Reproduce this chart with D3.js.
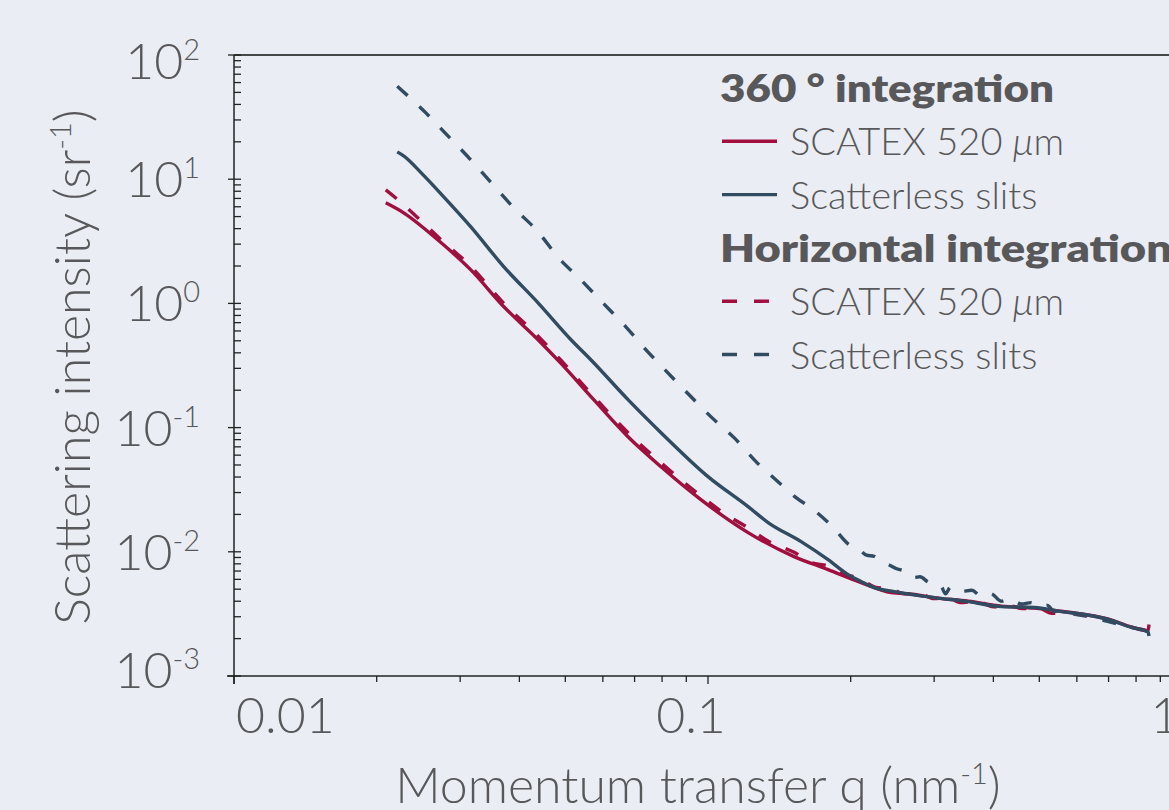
<!DOCTYPE html>
<html>
<head>
<meta charset="utf-8">
<script src="https://cdn.jsdelivr.net/npm/d3@7"></script>
<style>
  html, body { margin: 0; padding: 0; background: #eaedf4; }
  svg { display: block; }
  text { font-family: Lato, "Open Sans", sans-serif; fill: #58585a; }
</style>
</head>
<body>
<div class="chart"></div>
<script>
// data: [q (nm^-1), intensity (sr^-1)]
const scatex360 = [
  [0.0209, 6.45], [0.0228, 5.36], [0.0269, 3.25], [0.0316, 1.86], [0.0371, 0.939],
  [0.0438, 0.51], [0.0489, 0.33], [0.0574, 0.168], [0.0678, 0.0845], [0.0796, 0.0484],
  [0.0966, 0.0263], [0.1215, 0.01428], [0.1519, 0.00915], [0.1792, 0.00719],
  [0.2104, 0.00565], [0.2435, 0.0047], [0.270, 0.00455], [0.300, 0.00428],
  [0.354, 0.0040], [0.416, 0.00365], [0.488, 0.00352], [0.557, 0.00332],
  [0.623, 0.00313], [0.700, 0.00287], [0.782, 0.00248], [0.848, 0.00232], [0.852, 0.0026]
];
const slits360 = [
  [0.0221, 16.6], [0.0228, 15.4], [0.0248, 11.3], [0.0277, 7.21], [0.0316, 4.13],
  [0.0371, 1.97], [0.0438, 1.01], [0.0514, 0.51], [0.0566, 0.352], [0.0678, 0.168],
  [0.0796, 0.091], [0.1000, 0.0403], [0.1215, 0.0231], [0.1339, 0.0172],
  [0.1572, 0.01208], [0.1792, 0.00865], [0.1975, 0.00655], [0.2104, 0.00576],
  [0.2242, 0.00515], [0.2471, 0.00478], [0.300, 0.00428], [0.354, 0.00397],
  [0.416, 0.00362], [0.488, 0.00356], [0.557, 0.0033], [0.623, 0.00313],
  [0.700, 0.00285], [0.782, 0.00246], [0.848, 0.00226], [0.852, 0.0021]
];
const scatexHoriz = [
  [0.0209, 8.2], [0.0220, 7.0], [0.0240, 5.2], [0.0269, 3.45], [0.0316, 1.98],
  [0.0371, 1.0], [0.0438, 0.545], [0.0489, 0.35], [0.0574, 0.178], [0.0678, 0.091],
  [0.0796, 0.052], [0.0966, 0.0282], [0.1080, 0.0205], [0.1215, 0.0156],
  [0.1350, 0.0120], [0.1519, 0.0099], [0.1650, 0.0082], [0.1792, 0.0077],
  [0.1950, 0.0066], [0.2104, 0.0060], [0.2250, 0.0052], [0.2435, 0.0050],
  [0.2600, 0.0046], [0.2800, 0.0046], [0.3000, 0.0042], [0.3200, 0.0043],
  [0.3400, 0.0039], [0.3700, 0.0040], [0.4000, 0.0036], [0.4300, 0.0037],
  [0.4600, 0.0035], [0.5000, 0.0035], [0.5300, 0.0032], [0.5567, 0.0032]
];
const slitsHoriz = [
  [0.0221, 56], [0.0254, 34.2], [0.0284, 21.9], [0.0316, 14.3], [0.0352, 9.0],
  [0.0389, 5.9], [0.0438, 3.77], [0.0482, 2.37], [0.0539, 1.55], [0.0600, 1.01],
  [0.0671, 0.648], [0.0740, 0.423], [0.0823, 0.276], [0.0921, 0.177], [0.1015, 0.122],
  [0.1135, 0.083], [0.1264, 0.053], [0.1405, 0.0367], [0.1534, 0.0273],
  [0.1667, 0.0219], [0.1837, 0.0157], [0.1985, 0.0114], [0.2084, 0.0104],
  [0.2160, 0.0094], [0.2242, 0.0092], [0.2320, 0.0083], [0.2400, 0.0079],
  [0.2500, 0.0073], [0.2594, 0.0070], [0.2660, 0.0064], [0.2724, 0.0062],
  [0.2800, 0.0063], [0.2915, 0.0057], [0.3000, 0.0055], [0.3105, 0.00525],
  [0.3170, 0.0046], [0.3250, 0.0052], [0.3421, 0.0048], [0.3600, 0.0049],
  [0.3773, 0.0044], [0.3950, 0.0046], [0.4158, 0.0040], [0.4350, 0.0042],
  [0.4581, 0.0038], [0.4800, 0.0039], [0.5050, 0.0036], [0.5200, 0.0037],
  [0.5380, 0.0033], [0.5600, 0.0034], [0.5760, 0.00325], [0.6347, 0.00301],
  [0.6996, 0.00274], [0.7709, 0.0025], [0.8200, 0.00238], [0.8499, 0.00228]
];

const xTicks = [0.01, 0.1, 1];
const xTickLabels = ['0.01', '0.1', '1'];
const yTicks = [1e-3, 1e-2, 1e-1, 1e0, 1e1, 1e2];
const yTickExp = ['-3', '-2', '-1', '0', '1', '2'];

const red = '#a10f3f', blue = '#314b60';
const legendGroups = [
  {title: '360 ° integration', titleLen: 334, items: [
    {name: 'SCATEX 520 ', unit: 'μ', color: red, dash: false},
    {name: 'Scatterless slits', unit: '', color: blue, dash: false}
  ]},
  {title: 'Horizontal integration', titleLen: 452, items: [
    {name: 'SCATEX 520 ', unit: 'μ', color: red, dash: true},
    {name: 'Scatterless slits', unit: '', color: blue, dash: true}
  ]}
];

const series = [
  {data: scatexHoriz, color: red, dash: true},
  {data: slitsHoriz, color: blue, dash: true},
  {data: scatex360, color: red, dash: false},
  {data: slits360, color: blue, dash: false}
];

const W = 1169, H = 810;
const margin = {top: 55, left: 234, bottom: 133};
const plotRight = 1182;

const svg = d3.select('.chart').append('svg')
  .attr('width', W)
  .attr('height', H);

const x = d3.scaleLog().domain([0.01, 1]).range([margin.left, plotRight]);
const y = d3.scaleLog().domain([1e-3, 1e2]).range([H - margin.bottom - 1, margin.top]);

// frame (top + right edge; right edge falls outside the picture)
svg.append('path')
  .attr('d', `M${x(0.01)},${y(1e2)}H${x(1)}V${y(1e-3)}`)
  .attr('fill', 'none')
  .attr('stroke', '#111')
  .attr('stroke-width', 1.5);

// x axis
const xMinor = d3.range(1, 10).map(k => k * 0.01).concat(d3.range(1, 10).map(k => k * 0.1)).concat([1]);
const xAxis = svg.append('g').attr('transform', `translate(0,${y(1e-3)})`);
xAxis.append('line')
  .attr('x1', x(0.01) - 7).attr('x2', W + 20)
  .attr('stroke', '#222').attr('stroke-width', 1.5);
xAxis.selectAll('.xtick')
  .data(xMinor)
  .enter().append('line')
  .attr('x1', d => x(d)).attr('x2', d => x(d))
  .attr('y1', 0)
  .attr('y2', d => xTicks.some(t => Math.abs(t - d) < 1e-9) ? 8 : 6)
  .attr('stroke', '#222').attr('stroke-width', 1.3);
xAxis.selectAll('.xlabel')
  .data(xTicks)
  .enter().append('text')
  .attr('x', d => x(d))
  .attr('dx', (d, i) => i === 0 ? 2 : -17)
  .attr('y', 57)
  .attr('text-anchor', (d, i) => i === 0 ? 'start' : 'middle')
  .attr('font-size', 50)
  .attr('font-weight', 300)
  .text((d, i) => xTickLabels[i]);

// y axis
const yMinor = [];
for (let e = -3; e < 2; e++) for (let k = 1; k < 10; k++) yMinor.push(k * Math.pow(10, e));
yMinor.push(100);
const yAxis = svg.append('g').attr('transform', `translate(${x(0.01)},0)`);
yAxis.append('line')
  .attr('y1', y(1e2)).attr('y2', y(1e-3) + 8)
  .attr('stroke', '#222').attr('stroke-width', 1.5);
yAxis.selectAll('.ytick')
  .data(yMinor)
  .enter().append('line')
  .attr('x1', d => yTicks.some(t => Math.abs(Math.log10(t) - Math.log10(d)) < 1e-9) ? -6 : 0)
  .attr('x2', 7)
  .attr('y1', d => y(d)).attr('y2', d => y(d))
  .attr('stroke', '#222').attr('stroke-width', 1.3);

const yLab = svg.append('g').selectAll('.ylabel')
  .data(yTicks)
  .enter().append('text')
  .attr('x', 200)
  .attr('y', (d, i) => y(d) + 18 + (i === yTicks.length - 1 ? 6 : 0) + (i === 0 ? -6 : 0))
  .attr('text-anchor', 'end')
  .attr('font-size', 50)
  .attr('font-weight', 300);
yLab.append('tspan').text('10');
yLab.append('tspan')
  .attr('dy', -19)
  .attr('font-size', 29)
  .text((d, i) => yTickExp[i]);

// axis titles
const yTitle = svg.append('text')
  .attr('transform', `translate(90,367) rotate(-90)`)
  .attr('text-anchor', 'middle')
  .attr('font-size', 50)
  .attr('font-weight', 300);
yTitle.append('tspan').text('Scattering intensity (sr');
yTitle.append('tspan').attr('dy', -19).attr('font-size', 29).text('-1');
yTitle.append('tspan').attr('dy', 19).text(')');

const xTitle = svg.append('text')
  .attr('x', 698)
  .attr('y', 803)
  .attr('text-anchor', 'middle')
  .attr('font-size', 50)
  .attr('font-weight', 300);
xTitle.append('tspan').text('Momentum transfer q (nm');
xTitle.append('tspan').attr('dy', -19).attr('font-size', 29).text('-1');
xTitle.append('tspan').attr('dy', 19).text(')');

// curves
const line = d3.line()
  .x(d => x(d[0]))
  .y(d => y(d[1]))
  .curve(d3.curveMonotoneX);

svg.append('g').selectAll('.curve')
  .data(series)
  .enter().append('path')
  .attr('class', 'curve')
  .attr('d', d => line(d.data))
  .attr('fill', 'none')
  .attr('stroke', d => d.color)
  .attr('stroke-width', 3.4)
  .attr('stroke-linejoin', 'round')
  .attr('stroke-dasharray', d => d.dash ? '14,16' : null);

// legend
const legend = svg.append('g');
const lx = 720, rowH = 53.3;
let row = 0;
legendGroups.forEach(g => {
  legend.append('text')
    .attr('x', lx).attr('y', 102 + row * rowH)
    .attr('font-size', 38)
    .attr('font-weight', 800)
    .attr('textLength', g.titleLen)
    .attr('lengthAdjust', 'spacingAndGlyphs')
    .text(g.title);
  row++;
  g.items.forEach(it => {
    const by = 102 + row * rowH;
    legend.append('line')
      .attr('x1', lx + 2).attr('x2', lx + 57)
      .attr('y1', by - 14).attr('y2', by - 14)
      .attr('stroke', it.color)
      .attr('stroke-width', 3.4)
      .attr('stroke-dasharray', it.dash ? '15,17' : null);
    const t = legend.append('text')
      .attr('x', lx + 70).attr('y', by)
      .attr('font-size', 38)
      .attr('font-weight', 300);
    t.append('tspan').text(it.name);
    if (it.unit) {
      t.append('tspan').attr('font-style', 'italic').text(it.unit);
      t.append('tspan').text('m');
    }
    row++;
  });
});
</script>
</body>
</html>
